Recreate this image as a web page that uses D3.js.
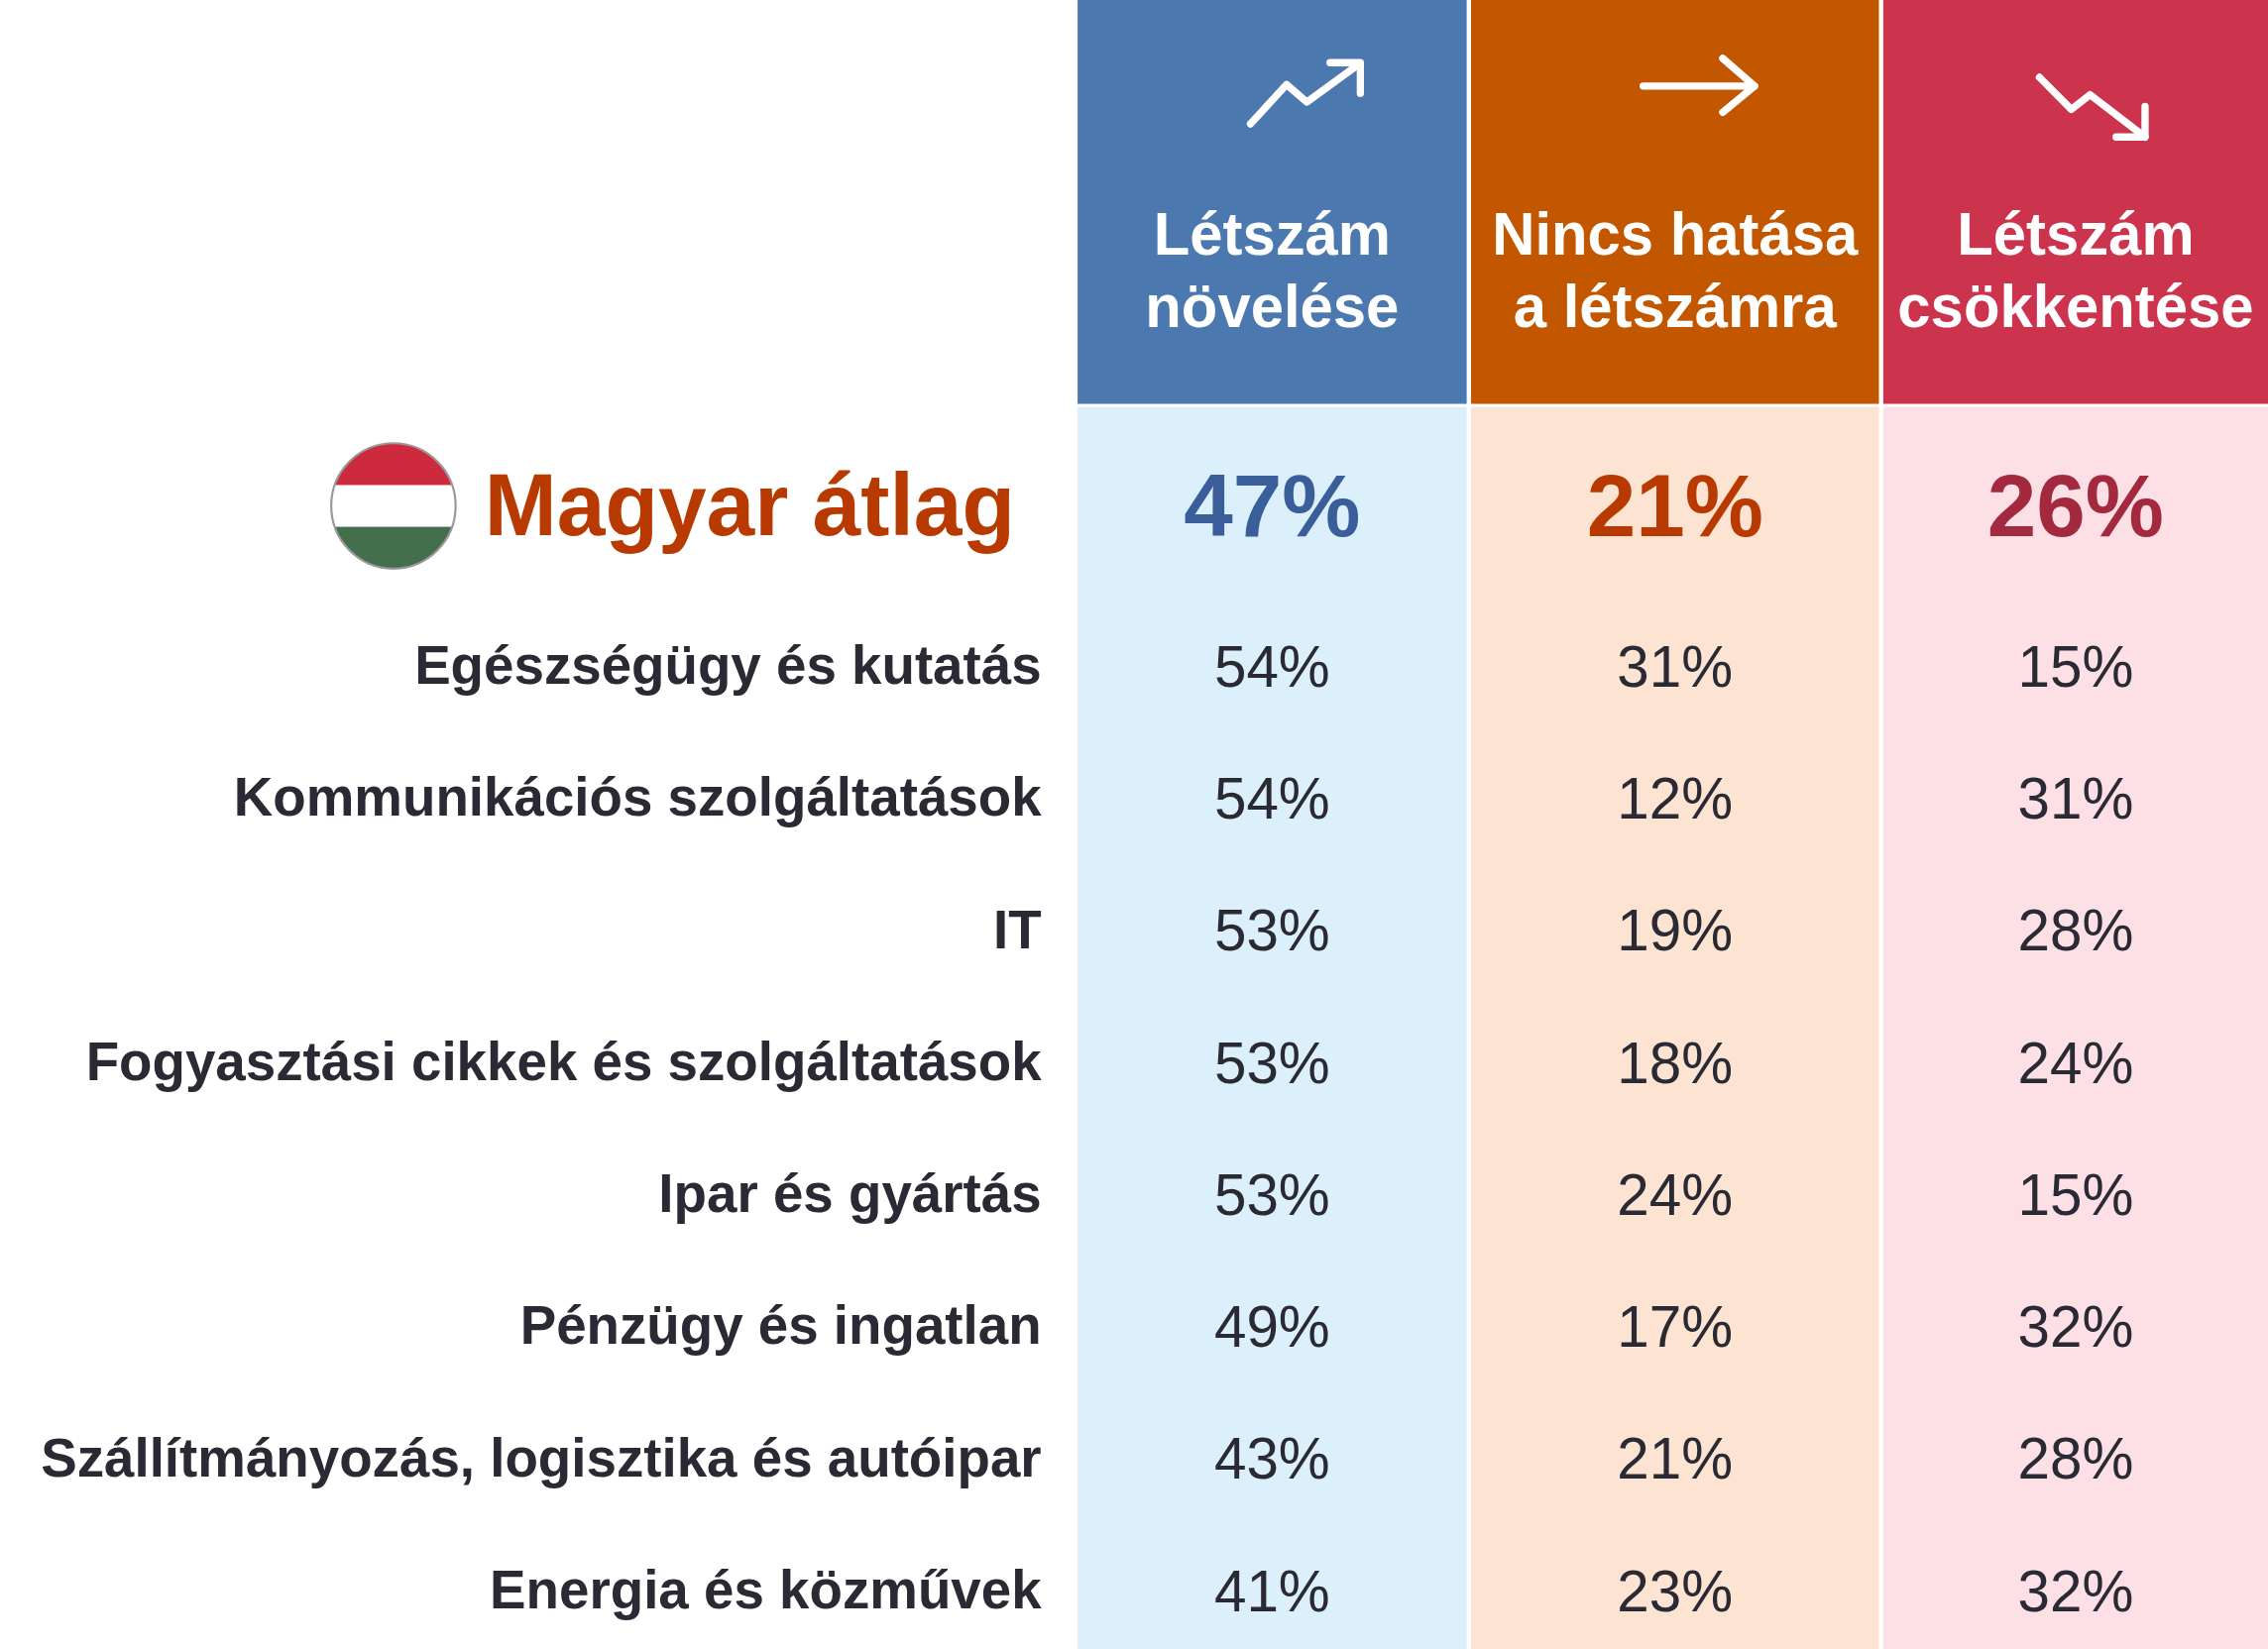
<!DOCTYPE html>
<html><head><meta charset="utf-8">
<script src="https://cdn.jsdelivr.net/npm/d3@7"></script>
<style>body{margin:0;background:#fff}svg{display:block}</style></head>
<body><script>
const columns=["Létszám növelése","Nincs hatása a létszámra","Létszám csökkentése"];
const headerLines=[["Létszám","növelése"],["Nincs hatása","a létszámra"],["Létszám","csökkentése"]];
const average=[47,21,26];
const categories=["Egészségügy és kutatás","Kommunikációs szolgáltatások","IT","Fogyasztási cikkek és szolgáltatások","Ipar és gyártás","Pénzügy és ingatlan","Szállítmányozás, logisztika és autóipar","Energia és közművek"];
const increase=[54,54,53,53,53,49,43,41];
const noEffect=[31,12,19,18,24,17,21,23];
const decrease=[15,31,28,24,15,32,28,32];
const series=[increase,noEffect,decrease];
const dark=["#4c78b0","#c25700","#cc334d"], light=["#dcf0fb","#fde4d2","#fde0e6"], avgCol=["#3a5e9a","#b83a00","#a3293f"];
const W=1568,H=1131;
const svg=d3.select("body").append("svg").attr("width",2288).attr("height",1664).attr("viewBox",`0 0 ${W} ${H}`).attr("preserveAspectRatio","none").style("font-family","'Liberation Sans',Arial,sans-serif");
const xL=d3.scaleOrdinal().domain(columns).range([745,1017,1302]);
const xW=d3.scaleOrdinal().domain(columns).range([269,282,266]);
const y=d3.scalePoint().domain(categories).range([457,1091]);
columns.forEach((c,i)=>{
  svg.append("rect").attr("x",xL(c)).attr("y",0).attr("width",xW(c)).attr("height",277).attr("fill",dark[i]);
  svg.append("rect").attr("x",xL(c)).attr("y",279).attr("width",xW(c)).attr("height",H-279).attr("fill",light[i]);
  const cx=xL(c)+xW(c)/2;
  headerLines[i].forEach((t,j)=>svg.append("text").attr("x",cx).attr("y",175+j*49).attr("text-anchor","middle").attr("fill","#fff").attr("font-weight","bold").attr("font-size",41).text(t));
  svg.append("text").attr("x",cx).attr("y",368).attr("text-anchor","middle").attr("fill",avgCol[i]).attr("font-weight","bold").attr("font-size",61).text(average[i]+"%");
  series[i].forEach((v,k)=>svg.append("text").attr("x",cx).attr("y",y(categories[k])+14).attr("text-anchor","middle").attr("fill","#2a2a35").attr("font-size",40).text(v+"%"));
  const g=svg.append("g").attr("fill","none").attr("stroke","#fff").attr("stroke-width",5).attr("stroke-linecap","round").attr("stroke-linejoin","round");
  if(i===0){g.append("path").attr("d",`M${cx-15},85 L${cx+10},58 L${cx+24},70 L${cx+60},44`);g.append("path").attr("d",`M${cx+40},43 L${cx+61},43 L${cx+61},64`);}
  if(i===1){g.append("path").attr("d",`M${cx-22},59 L${cx+55},59`);g.append("path").attr("d",`M${cx+33},40 L${cx+55},59 L${cx+33},77`);}
  if(i===2){g.append("path").attr("d",`M${cx-25},53 L${cx-3},75 L${cx+10},65 L${cx+48},94`);g.append("path").attr("d",`M${cx+48},73 L${cx+48},94 L${cx+28},94`);}
});
categories.forEach(c=>svg.append("text").attr("x",720).attr("y",y(c)+12).attr("text-anchor","end").attr("fill","#2a2a35").attr("font-weight","bold").attr("font-size",37.5).text(c));
svg.append("text").attr("x",335).attr("y",367).attr("fill","#b83a00").attr("font-weight","bold").attr("font-size",60).text("Magyar átlag");
const fx=272,fy=347,r=43;
const clip=svg.append("clipPath").attr("id","fc");clip.append("circle").attr("cx",fx).attr("cy",fy).attr("r",r);
const fg=svg.append("g").attr("clip-path","url(#fc)");
["#cd2a3e","#ffffff","#436f4d"].forEach((col,k)=>fg.append("rect").attr("x",fx-r).attr("y",fy-r+k*2*r/3).attr("width",2*r).attr("height",2*r/3+0.5).attr("fill",col));
svg.append("circle").attr("cx",fx).attr("cy",fy).attr("r",r).attr("fill","none").attr("stroke","#999").attr("stroke-width",1.5);
</script></body></html>
